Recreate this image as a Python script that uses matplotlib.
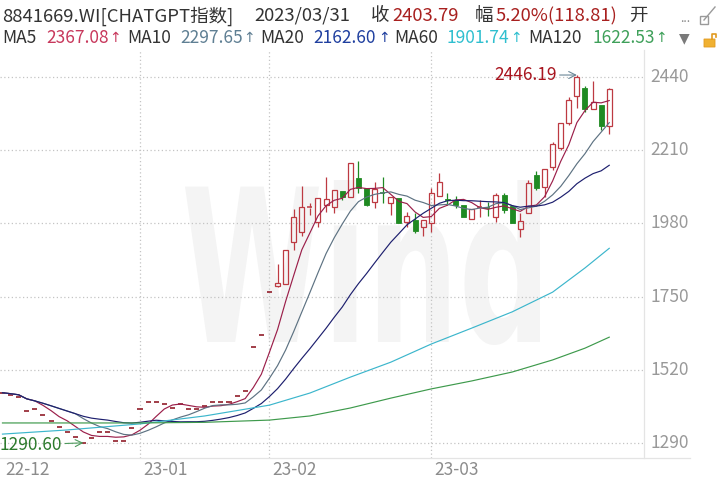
#!/usr/bin/env python3
"""Wind style K-line chart of the CHATGPT index (8841669.WI), Dec 2022 - Mar 2023."""

import pandas as pd
import matplotlib
matplotlib.use('Agg')
import matplotlib.pyplot as plt
from matplotlib.patches import Rectangle, PathPatch, FancyBboxPatch
from matplotlib.lines import Line2D
from matplotlib.textpath import TextPath
from matplotlib.font_manager import FontProperties
from matplotlib.transforms import Affine2D, IdentityTransform, blended_transform_factory

plt.rcParams['font.family'] = ['Noto Sans CJK SC', 'DejaVu Sans']

# trading days shown (China market, holidays skipped)
holidays = ['2023-01-02', '2023-01-23', '2023-01-24', '2023-01-25',
            '2023-01-26', '2023-01-27']
dates = pd.bdate_range('2022-12-08', '2023-03-31', freq='C', holidays=holidays)

# Dec 8 .. Feb 1: index only has closes, drawn as flat dashes
flat_close = [1448, 1442, 1434.5, 1390.5, 1396.8, 1378, 1359.1, 1340.3, 1324.5,
              1308.8, 1290.6, 1305, 1324.5, 1324.5, 1296.2, 1296.2, 1337.1,
              1396.8, 1418.8, 1418.8, 1412.5, 1399.9, 1412.5, 1396.8, 1396.8,
              1405, 1418.8, 1418.8, 1418.8, 1437.7, 1453.4, 1591.6, 1629.3,
              1764.4]

# Feb 2 .. Mar 31 candles
open_tail = [1783.3, 1789.6, 1921.5, 1953.0, 2028.4, 1984.4, 2037.8, 2031.5,
             2081.8, 2062.9, 2122.6, 2091.2, 2047.3, 2077.0, 2044.1, 2059.8,
             1984.4, 1990.7, 1968.7, 1981.3, 2066.1, 2056.7, 2053.5, 2037.8,
             1993.8, 2028.4, 2030.0, 2000.1, 2069.2, 2034.7, 1962.4, 2012.7,
             2132.1, 2094.4, 2157.2, 2216.9, 2295.5, 2380.3, 2405.4, 2339.5,
             2352.0, 2285.0]
high_tail = [1852.4, 1896.4, 2025.2, 2097.5, 2044.1, 2059.8, 2125.8, 2084.9,
             2081.8, 2169.8, 2176.1, 2091.2, 2110.0, 2125.8, 2062.9, 2059.8,
             2015.8, 2012.7, 1990.7, 2091.2, 2138.4, 2075.5, 2066.1, 2037.8,
             2025.2, 2053.5, 2047.3, 2075.5, 2075.5, 2034.7, 2012.7, 2116.4,
             2144.6, 2151.0, 2235.8, 2295.5, 2377.2, 2446.19, 2411.7, 2427.4,
             2352.0, 2405.4]
low_tail = [1780.2, 1789.6, 1896.4, 1940.4, 2006.4, 1968.7, 2015.8, 2012.7,
            2053.5, 2062.9, 2075.5, 2034.7, 2028.4, 2044.1, 2006.4, 1981.3,
            1968.7, 1949.8, 1940.0, 1953.0, 2066.1, 2037.8, 2028.4, 2000.1,
            1993.8, 2000.1, 2003.3, 1984.4, 2012.7, 1981.3, 1937.3, 2012.7,
            2084.9, 2062.9, 2147.8, 2210.0, 2289.2, 2342.6, 2330.0, 2339.5,
            2273.5, 2260.9]
close_tail = [1792.7, 1896.4, 2000.1, 2031.5, 2030.0, 2059.8, 2056.7, 2084.9,
              2062.9, 2169.8, 2091.2, 2037.8, 2088.1, 2075.5, 2062.9, 1981.3,
              2003.3, 1956.1, 1990.7, 2075.5, 2110.1, 2053.5, 2037.8, 2000.1,
              2025.2, 2030.0, 2028.4, 2069.2, 2022.1, 1981.3, 1987.5, 2106.9,
              2091.2, 2151.0, 2229.5, 2295.5, 2367.7, 2440.0, 2339.5, 2361.4,
              2284.98, 2403.79]

# long averages at some candles
ma_pos = [0, 8, 17, 25, 33, 38, 43, 48, 53, 58, 63, 68, 72, 75]
ma60 = [1318, 1331, 1350, 1375, 1409, 1447, 1497, 1544, 1601, 1651, 1702,
        1764, 1840, 1901.74]
ma120 = [1353, 1353, 1353, 1355, 1362, 1375, 1400, 1431, 1460, 1485, 1513,
         1551, 1588, 1622.53]

y_ticks = [1290, 1520, 1750, 1980, 2210, 2440]

UP = '#bd3a42'
DOWN = '#1f8a22'
FLAT = '#9a2f3a'
MA_COLORS = {'MA5': '#9b1f4a', 'MA10': '#5d7282', 'MA20': '#1d1f6e'}
GRID = '#c4c4c4'
W, H = 723, 480


def px(x, y):
    """pixel (from top-left) -> figure fraction"""
    return x / W, 1 - y / H


def draw_candles(ax, o, h, l, c, width=0.62):
    for k in range(len(c)):
        if h[k] == l[k]:
            ax.hlines(c[k], k - width / 2, k + width / 2, color=FLAT, lw=1.3, zorder=2)
            continue
        up = c[k] >= o[k]
        col = UP if up else DOWN
        top, bot = max(o[k], c[k]), min(o[k], c[k])
        ax.vlines(k, top, h[k], color=col, lw=0.9, zorder=2)
        ax.vlines(k, l[k], bot, color=col, lw=0.9, zorder=2)
        if top - bot < 3:
            ax.hlines(c[k], k - width / 2, k + width / 2, color=col, lw=1.1, zorder=2)
        elif up:
            ax.add_patch(Rectangle((k - width / 2, bot), width, top - bot,
                                   fill=False, ec=col, lw=0.9, zorder=2))
        else:
            ax.add_patch(Rectangle((k - width / 2, bot), width, top - bot,
                                   fc=col, ec=col, lw=0.6, zorder=2))


def draw_header(fig):
    dark = '#333333'
    red = '#a8201f'
    row1 = [(2, '8841669.WI[CHATGPT指数]', dark), (254, '2023/03/31', dark),
            (371, '收', dark), (392, '2403.79', red), (475, '幅', dark),
            (496, '5.20%(118.81)', red), (629, '开', dark)]
    for x, s, col in row1:
        fig.text(*px(x, 16), s, color=col, fontsize=13.3, va='center', ha='left')
    fig.text(*px(680, 18), '...', color='#888888', fontsize=9, va='center')

    row2 = [(2, 'MA5', dark), (46, '2367.08', '#c8385c'), (127, 'MA10', dark),
            (180, '2297.65', '#5f7f93'), (260, 'MA20', dark), (313, '2162.60', '#1f3f9f'),
            (394, 'MA60', dark), (446, '1901.74', '#2fbfcf'), (528, 'MA120', dark),
            (592, '1622.53', '#3fa05a')]
    arrows = [(109, '#c8385c'), (243, '#5f7f93'), (378, '#1f3f9f'),
              (510, '#2fbfcf'), (655, '#3fa05a')]
    for x, s, col in row2:
        fig.text(*px(x, 38), s, color=col, fontsize=12.5, va='center', ha='left')
    for x, col in arrows:
        fig.text(*px(x, 38), '↑', color=col, fontsize=10, va='center', ha='left',
                 family='DejaVu Sans')
    fig.text(*px(679, 38), '▼', color='#7a7a7a', fontsize=10, va='center',
             family='DejaVu Sans')

    # expand icon and lock icon
    fig.add_artist(Rectangle(px(700, 24), 8 / W, 8 / H, fill=False, ec='#9a9a9a', lw=1))
    fig.add_artist(Line2D([704 / W, 715 / W], [1 - 20 / H, 1 - 7 / H], color='#9a9a9a', lw=1))
    fig.add_artist(FancyBboxPatch(px(704, 47), 11 / W, 8 / H, boxstyle='round,pad=0',
                                  fc='#f0b132', ec='#e09a20', lw=0.6))
    fig.add_artist(Line2D([712 / W, 712 / W, 716 / W, 716 / W],
                          [1 - 39 / H, 1 - 34 / H, 1 - 34 / H, 1 - 37 / H],
                          color='#e09a20', lw=1.2))


def draw_watermark(fig):
    tp = TextPath((0, 0), 'Wind', size=100,
                  prop=FontProperties(family='DejaVu Sans', weight='bold'))
    bb = tp.get_extents()
    tr = (Affine2D().translate(-bb.x0, -bb.y0)
          .scale((540 - 185) / bb.width, (345 - 180) / bb.height)
          .translate(185, H - 345))
    fig.add_artist(PathPatch(tr.transform_path(tp), transform=IdentityTransform(),
                             fc='#f4f4f4', ec='none', zorder=-1))


def main():
    opens = flat_close + open_tail
    highs = flat_close + high_tail
    lows = flat_close + low_tail
    closes = flat_close + close_tail
    n = len(closes)
    xs = list(range(n))

    fig = plt.figure(figsize=(W / 100, H / 100), dpi=100)
    draw_watermark(fig)
    ax = fig.add_axes([0, 22 / H, 645 / W, 408 / H])
    ax.set_facecolor('none')
    ax.set_xlim(-0.305, 79.42)
    ax.set_ylim(1242.9, 2524.8)
    for s in ax.spines.values():
        s.set_visible(False)
    ax.set_xticks([])
    ax.set_yticks([])

    # grid
    for v in y_ticks:
        ax.axhline(v, color=GRID, lw=0.9, ls=(0, (1, 2)), zorder=1)
    month = pd.Series(dates.month)
    month_starts = [k for k in range(1, n) if month[k] != month[k - 1]]
    for k in month_starts:
        ax.axvline(k, color=GRID, lw=0.9, ls=(0, (1, 2)), zorder=1)

    draw_candles(ax, opens, highs, lows, closes)

    cs = pd.Series(closes)
    for name, win in [('MA5', 5), ('MA10', 10), ('MA20', 20)]:
        ax.plot(xs, cs.rolling(win, min_periods=1).mean(), color=MA_COLORS[name],
                lw=0.85, zorder=3)
    ax.plot(ma_pos, ma60, color='#3cb6cc', lw=0.85, zorder=3)
    ax.plot(ma_pos, ma120, color='#3e9a4c', lw=0.85, zorder=3)

    # high / low marks
    hi = high_tail.index(max(high_tail)) + len(flat_close)
    lo = flat_close.index(min(flat_close))
    ax.annotate(f'{highs[hi]:.2f}', xy=(hi, highs[hi]), xytext=(-20, 0),
                textcoords='offset pixels', ha='right', va='center', color='#a8141e',
                fontsize=12.5,
                arrowprops=dict(arrowstyle='->', color='#6b8797', lw=0.8,
                                shrinkA=0, shrinkB=0))
    ax.annotate(f'{lows[lo]:.2f}', xy=(lo, lows[lo]), xytext=(-21, -2),
                textcoords='offset pixels', ha='right', va='center', color='#2c7a2c',
                fontsize=12.5,
                arrowprops=dict(arrowstyle='->', color='#4d9a5c', lw=0.8,
                                shrinkA=0, shrinkB=0))

    # right price labels
    ytr = blended_transform_factory(ax.transAxes, ax.transData)
    for v in y_ticks:
        ax.text(650 / 645, v, str(v), transform=ytr, ha='left', va='center',
                color='#999999', fontsize=12.5, clip_on=False)

    # date labels
    xtr = blended_transform_factory(ax.transData, ax.transAxes)
    ax.text(5 / 645, -12 / 408, '22-12', transform=ax.transAxes, ha='left',
            va='center', color='#8c8c8c', fontsize=12.5)
    for k in month_starts:
        ax.text(k + 0.4, -12 / 408, dates[k].strftime('%y-%m'), transform=xtr,
                ha='left', va='center', color='#8c8c8c', fontsize=12.5)

    # frame lines
    fig.add_artist(Line2D([644 / W] * 2, [22 / H, 430 / H], color='#e4e4e4', lw=0.9))
    fig.add_artist(Line2D([0, 690 / W], [22 / H] * 2, color='#e4e4e4', lw=0.9))

    draw_header(fig)

    fig.savefig('out.png', dpi=100, facecolor='white')
    plt.close(fig)


if __name__ == '__main__':
    main()
